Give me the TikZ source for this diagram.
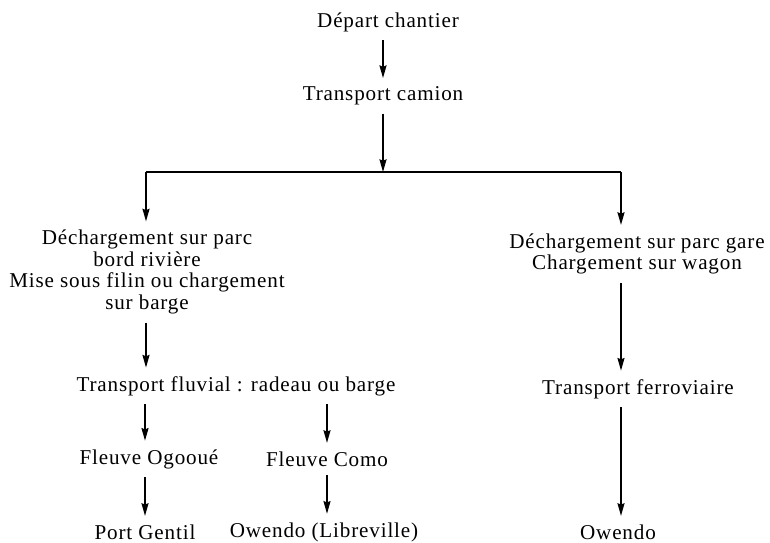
\documentclass[tikz,border=0pt]{standalone}
\usepackage{fontspec}
\setmainfont{Liberation Serif}[LetterSpace=4]
\usetikzlibrary{arrows.meta}

\begin{document}
\begin{tikzpicture}[x=0.025cm, y=-0.025cm,
  lbl/.style={inner sep=2pt, align=center, font={\fontsize{15}{15.3}\selectfont}},
  arr/.style={line width=1.1pt, -{Stealth[length=9pt,width=5pt,inset=1pt]},
    shorten >=4pt, shorten <=4pt}]

\useasboundingbox (0,0) rectangle (770,542);

\node [lbl] (depart) at (388,22) {Départ chantier};
\node [lbl] (camion) at (383,96) {Transport camion};

\coordinate (split) at (383,172);
\coordinate (lsplit) at (146,172);
\coordinate (rsplit) at (621,172);

\node [lbl] (ldech) at (147,272) {Déchargement sur parc\\ bord rivière\\
Mise sous filin ou chargement\\ sur barge};
\node [lbl] (rdech) at (637,254) {Déchargement sur parc gare\\ Chargement sur wagon};

\node [lbl] (fluvial) at (236,386) {Transport fluvial : radeau ou barge};
\node [lbl] (ogooue) at (149,459) {Fleuve Ogooué};
\node [lbl] (como) at (327,459) {Fleuve Como};
\node [lbl] (gentil) at (145,532) {Port Gentil};
\node [lbl] (libre) at (324,532) {Owendo (Libreville)};

\node [lbl] (ferro) at (638,389) {Transport ferroviaire};
\node [lbl] (owendo) at (618,532) {Owendo};


\draw [arr] (split |- depart.south) -- (split |- camion.north);
\draw [arr, shorten >=0pt] (split |- camion.south) -- (split);
\draw [line width=1.1pt] (lsplit) -- (rsplit);
\draw [arr, shorten <=0pt] (lsplit) -- (lsplit |- ldech.north);
\draw [arr, shorten <=0pt] (rsplit) -- (rsplit |- rdech.north);

\draw [arr] (lsplit |- ldech.south) -- (lsplit |- fluvial.north);
\draw [arr] (gentil |- fluvial.south) -- (gentil |- ogooue.north);
\draw [arr] (como |- fluvial.south) -- (como.north);
\draw [arr] (gentil |- ogooue.south) -- (gentil.north);
\draw [arr] (como.south) -- (como |- libre.north);

\draw [arr] (rsplit |- rdech.south) -- (rsplit |- ferro.north);
\draw [arr] (rsplit |- ferro.south) -- (rsplit |- owendo.north);

\end{tikzpicture}
\end{document}
